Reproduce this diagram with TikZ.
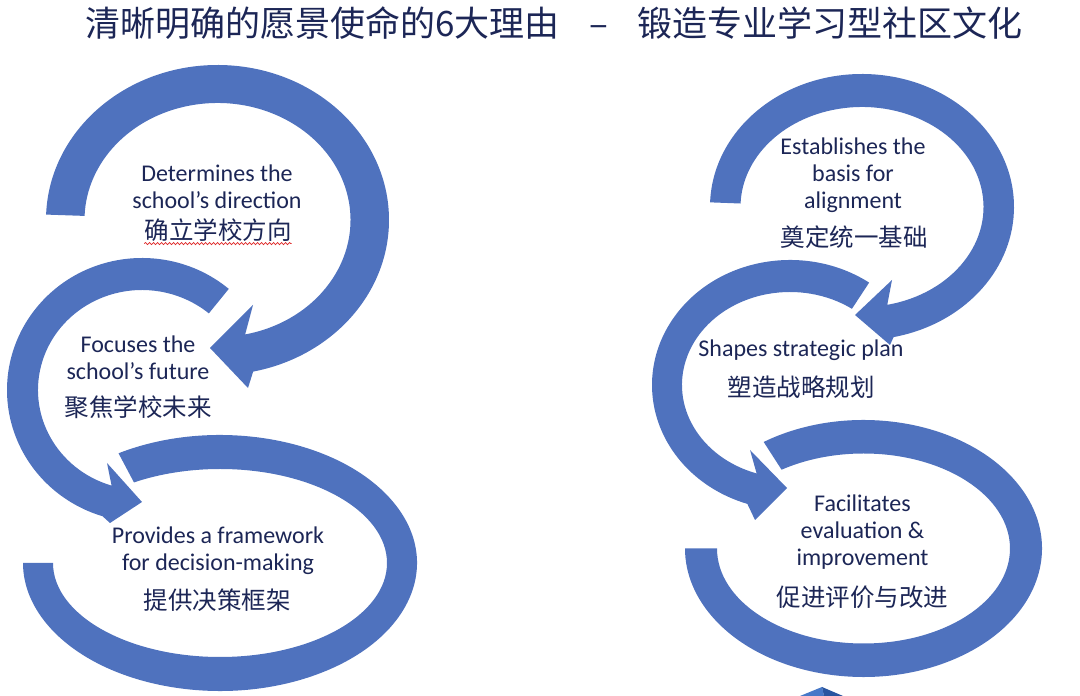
\documentclass[tikz,border=0pt]{standalone}
\usepackage{fontspec}
\setmainfont{Carlito}
\newfontfamily\cjkfont{Noto Sans CJK SC}
\usetikzlibrary{decorations.pathmorphing}
\definecolor{ringblue}{RGB}{79,114,190}
\definecolor{inknavy}{RGB}{28,38,86}
\definecolor{spellred}{RGB}{222,40,40}
\definecolor{pyrlight}{RGB}{70,120,200}
\definecolor{pyrdark}{RGB}{40,85,160}
\tikzset{
  ring/.style={fill=ringblue},
  en text/.style={font=\fontsize{24}{27}\selectfont, text=inknavy, align=center, inner sep=0pt},
  cn text/.style={font=\cjkfont\fontsize{24.5}{28}\selectfont, text=inknavy, inner sep=0pt},
  title text/.style={font=\cjkfont\fontsize{35}{40}\selectfont, text=inknavy, inner sep=0pt},
  spell mark/.style={draw=spellred, line width=0.7pt, decorate,
    decoration={snake, amplitude=1.1pt, segment length=4pt}},
}
% #1 centre, #2 #3 outer radii, #4 #5 inner radii, #6 start, #7 end, #8 head
\newcommand{\ringarrow}[8]{%
  \fill[ring] ([shift={(#1)}]#6:#2 and #3)
    arc[start angle=#6, end angle=#7, x radius=#2, y radius=#3] #8
    -- ([shift={(#1)}]#7:#4 and #5)
    arc[start angle=#7, end angle=#6, x radius=#4, y radius=#5] -- cycle;}
\begin{document}
\begin{tikzpicture}[x=1pt,y=1pt]
  \useasboundingbox (0,0) rectangle (1080,696);
  \node[title text] (title) at (554,673) {清晰明确的愿景使命的6大理由\hspace{0.85em}–\hspace{0.85em}锻造专业学习型社区文化};
  % left column
  \ringarrow{217.5,476}{171.5}{155}{133}{117}{178}{-78}{-- (248,308) -- (210,348) -- (253,391)}
  \ringarrow{142,306}{135}{132}{104}{100}{50}{253}{-- (110,173) -- (142,194) -- (107,233)}
  \ringarrow{220,133}{197}{128}{167}{94}{121}{-180}{}
  % right column
  \ringarrow{862,489}{152}{133}{121.5}{100}{178}{-78}{-- (890,351) -- (855,381) -- (892,416)}
  \ringarrow{790,311}{138}{125}{108}{93}{55}{252}{-- (755,176) -- (787,208) -- (750,246)}
  \ringarrow{863.5,147.5}{178.5}{128.5}{146.5}{95}{124}{-180}{}
  % texts
  \node[en text] (dirtxt) at (217,509) {Determines the\\school’s direction};
  \node[cn text] (dircn) at (218,466) {确立学校方向};
  \draw[spell mark] ([yshift=-2pt]dircn.south west) -- ([yshift=-2pt]dircn.south east);
  \node[en text] (futtxt) at (138,338) {Focuses the\\school’s future};
  \node[cn text] (futcn) at (138,289) {聚焦学校未来};
  \node[en text] (dectxt) at (218,145) {Provides a framework\\for decision-making};
  \node[cn text] (deccn) at (217,96) {提供决策框架};
  \node[en text] (algtxt) at (853,521) {Establishes the\\basis for\\alignment};
  \node[cn text] (algcn) at (854,459) {奠定统一基础};
  \node[en text] (plntxt) at (801,346) {Shapes strategic plan};
  \node[cn text] (plncn) at (801,309) {塑造战略规划};
  \node[en text] (evltxt) at (862.5,164) {Facilitates\\evaluation \&\\improvement};
  \node[cn text] (evlcn) at (862.5,99) {促进评价与改进};
  % pyramid at the bottom edge
  \fill[pyrlight] (822,9) -- (800,0) -- (824,0) -- cycle;
  \fill[pyrdark] (822,9) -- (824,0) -- (843,0) -- cycle;
\end{tikzpicture}
\end{document}
